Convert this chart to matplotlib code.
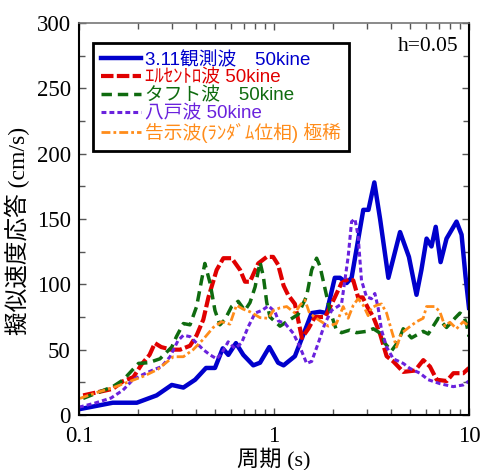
import matplotlib
matplotlib.use("Agg")
import matplotlib.pyplot as plt
from matplotlib.ticker import FixedLocator, NullFormatter, LogLocator

# ---- data (period in s, pseudo velocity response in cm/s) ----
t_obs311 = [0.1, 0.149, 0.198, 0.25, 0.299, 0.343, 0.394, 0.448, 0.498, 0.546, 0.583,
            0.638, 0.696, 0.783, 0.848, 0.946, 1.05, 1.12, 1.28, 1.47, 1.56, 1.72, 1.86,
            2.05, 2.18, 2.36, 2.50, 2.87, 3.05, 3.27, 3.50, 3.86, 4.43, 4.92, 5.38, 5.70,
            6.06, 6.42, 6.75, 7.15, 7.67, 8.63, 9.16, 9.6, 10.0]
v_obs311 = [4.4, 9.4, 9.4, 15, 23, 21, 27, 36, 36, 51, 46, 55, 46, 38, 40, 52, 40, 38,
            45, 68, 78, 79, 78, 105, 105, 101, 105, 157, 157, 178, 150, 105, 140, 121, 92,
            111, 135, 129, 144, 117, 135, 148, 138, 106, 82]

t_elcentro = [0.105, 0.149, 0.169, 0.190, 0.210, 0.230, 0.245, 0.264, 0.297, 0.330, 0.371,
              0.401, 0.434, 0.461, 0.508, 0.550, 0.607, 0.670, 0.710, 0.753, 0.830, 0.918,
              0.99, 1.05, 1.12, 1.18, 1.28, 1.39, 1.50, 1.62, 1.83, 2.05, 2.22, 2.40, 2.55,
              2.70, 2.85, 3.03, 3.23, 3.50, 3.78, 4.09, 4.60, 5.29, 5.83, 6.31, 6.83, 7.69,
              8.32, 9.35, 10.0]
v_elcentro = [15, 20, 26, 29, 39, 46, 55, 52, 50, 50, 53, 61, 73, 90, 111, 120, 120, 111,
              102, 102, 116, 121, 121, 115, 99, 92, 85, 59, 66, 75, 75, 90, 101, 104, 103,
              90, 90, 82, 75, 62, 45, 41, 33, 34, 42, 37, 27, 26, 32, 32, 36]

t_taft = [0.105, 0.149, 0.169, 0.202, 0.227, 0.260, 0.299, 0.316, 0.343, 0.371, 0.401,
          0.425, 0.442, 0.470, 0.498, 0.528, 0.560, 0.606, 0.655, 0.709, 0.753, 0.800,
          0.848, 0.882, 0.918, 0.954, 1.074, 1.208, 1.33, 1.47, 1.56, 1.654, 1.72, 1.824,
          1.935, 2.09, 2.22, 2.45, 2.65, 2.98, 3.23, 3.56, 3.70, 4.0, 4.33, 4.60, 5.07,
          5.82, 6.18, 6.95, 7.67, 8.46, 8.98, 9.35, 9.7, 10.0]
v_taft = [12.7, 21.7, 27, 39.5, 40, 43, 52, 60, 70, 69, 83, 103, 116, 101, 80, 69, 73, 83,
          87, 80, 86, 98, 117, 106, 86, 75, 68, 73, 77, 91, 111, 120, 114, 97, 80, 65, 63,
          65, 63, 64, 66, 62, 55, 49, 56, 66, 59, 64, 62, 74, 67, 74, 78, 76, 70, 60]

t_hachinohe = [0.1, 0.120, 0.146, 0.168, 0.189, 0.213, 0.240, 0.265, 0.293, 0.322, 0.343,
               0.371, 0.401, 0.434, 0.470, 0.508, 0.538, 0.582, 0.630, 0.681, 0.738, 0.800,
               0.866, 0.936, 1.012, 1.053, 1.14, 1.256, 1.359, 1.47, 1.56, 1.686, 1.824,
               1.973, 2.22, 2.40, 2.50, 2.60, 2.70, 2.81, 2.98, 3.16, 3.29, 3.42, 3.56,
               3.78, 4.09, 4.60, 4.97, 5.6, 6.18, 7.09, 8.3, 9.34, 10.0]
v_hachinohe = [6, 9, 13, 19, 27, 31, 34.5, 37, 44.6, 57, 61, 60, 55, 50, 46, 43, 47, 56, 51,
               55, 67.6, 78, 80, 83.5, 79, 72, 70, 62.5, 52, 39.5, 41, 55, 70, 80, 85, 121,
               148, 150, 137, 103, 90.5, 89, 93, 82, 65, 52, 43, 39.5, 35.7, 32, 27, 24,
               21.7, 23, 26]

t_notice = [0.101, 0.125, 0.146, 0.170, 0.217, 0.254, 0.305, 0.343, 0.385, 0.434, 0.488,
            0.538, 0.594, 0.642, 0.695, 0.753, 0.848, 0.936, 0.993, 1.074, 1.162, 1.281,
            1.359, 1.441, 1.52, 1.686, 1.897, 2.09, 2.264, 2.40, 2.55, 2.70, 2.87, 3.04,
            3.16, 3.36, 3.56, 3.78, 4.0, 4.25, 4.50, 4.97, 5.38, 5.82, 6.06, 6.68, 7.09,
            7.52, 7.98, 8.63, 9.34, 10.0]
v_notice = [12.7, 17.5, 20.4, 24, 30, 35, 44.6, 44.6, 50, 58, 67, 71.4, 69.5, 84, 81, 79,
            74.5, 74, 80, 82, 83, 78, 84, 88, 78, 73, 68, 70, 83, 74, 84, 89, 84, 76, 82,
            84, 85, 78, 65, 52, 62.5, 67.6, 71.4, 74, 83, 83, 79, 68, 71, 66, 71.4, 68]

labels = ["3.11観測波\u300050kine", "ｴﾙｾﾝﾄﾛ波 50kine", "タフト波\u300050kine",
          "八戸波 50kine", "告示波(ﾗﾝﾀﾞﾑ位相) 極稀"]
colors = ["#0000CC", "#E00000", "#0F6B0F", "#6A22DD", "#FF8C1A"]
xtick_vals = [0.1, 1, 10]
xtick_labels = ["0.1", "1", "10"]
ytick_vals = [0, 50, 100, 150, 200, 250, 300]

serif_cjk = ["Liberation Serif", "Noto Sans CJK JP"]
sans_cjk = ["Liberation Sans", "Noto Sans CJK JP"]

fig = plt.figure(figsize=(4.81, 4.70), dpi=100)
ax = fig.add_axes([79 / 481, 55 / 470, 390 / 481, 392 / 470])

series = [(t_obs311, v_obs311), (t_elcentro, v_elcentro), (t_taft, v_taft),
          (t_hachinohe, v_hachinohe), (t_notice, v_notice)]
styles = [
    dict(lw=3.2, ls="-"),
    dict(lw=3.0, ls=(0, (3.0, 0.8))),
    dict(lw=2.5, ls=(0, (3.0, 1.7))),
    dict(lw=2.2, ls=(0, (1.6, 1.0))),
    dict(lw=2.0, ls=(0, (3.2, 1.1, 1.0, 1.1))),
]
for (t, v), c, st, lab in zip(series, colors, styles, labels):
    ax.plot(t, v, color=c, label=lab, solid_joinstyle="round", **st)

ax.set_xscale("log")
ax.set_xlim(0.1, 10)
ax.set_ylim(0, 300)
ax.xaxis.set_major_locator(FixedLocator(xtick_vals))
ax.set_xticks(xtick_vals)
ax.set_xticklabels(xtick_labels)
ax.xaxis.set_minor_locator(LogLocator(base=10, subs=range(2, 10)))
ax.xaxis.set_minor_formatter(NullFormatter())
ax.set_yticks(ytick_vals)
ax.set_yticks([25, 75, 125, 175, 225, 275], minor=True)

for lab in ax.get_xticklabels() + ax.get_yticklabels():
    lab.set_fontfamily("Liberation Serif")
    lab.set_fontsize(16.5)

ax.tick_params(which="both", direction="in", top=True, right=True,
               color="#555555", width=1.0)
ax.tick_params(which="major", length=5, pad=6)
ax.tick_params(which="minor", length=4)
ax.tick_params(axis="x", which="major", pad=8)

for s in ["left", "bottom", "right"]:
    ax.spines[s].set_linewidth(1.5)
    ax.spines[s].set_color("black")
ax.spines["top"].set_color("#777777")
ax.spines["top"].set_linewidth(1.2)

ax.set_xlabel("周期 (s)", fontfamily=serif_cjk, fontsize=16, labelpad=0)
ax.set_ylabel("擬似速度応答 (cm/s)", fontfamily=serif_cjk, fontsize=17)
ax.yaxis.set_label_coords(-0.125, 0.47)

ax.text(0.972, 0.939, "h=0.05", transform=ax.transAxes, ha="right", va="center",
        fontfamily="Liberation Serif", fontsize=15.5)

leg = ax.legend(loc="upper left", bbox_to_anchor=(0.036, 0.949), borderaxespad=0,
                prop={"family": sans_cjk, "size": 13.5}, handlelength=2.1,
                handletextpad=0.2, labelspacing=0.03, borderpad=0.45,
                fancybox=False, framealpha=1, edgecolor="black")
leg.get_frame().set_linewidth(2.0)
for txt, c in zip(leg.get_texts(), colors):
    txt.set_color(c)

fig.savefig("out.png", dpi=100)
